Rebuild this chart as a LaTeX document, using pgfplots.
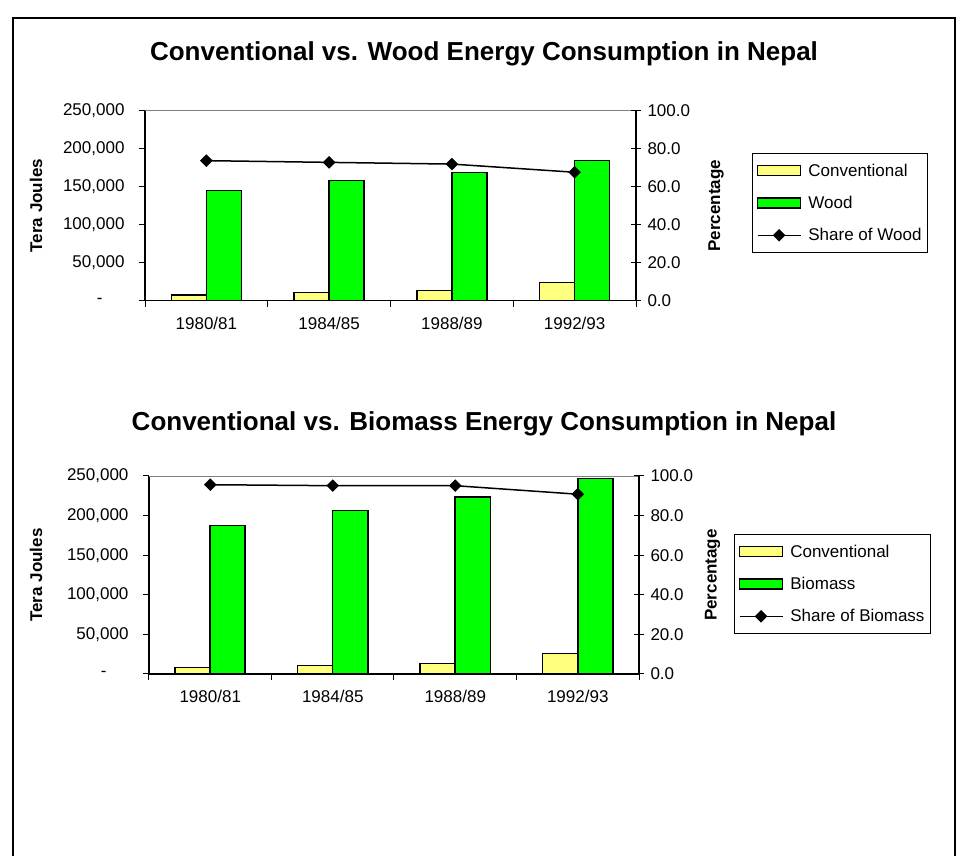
\documentclass[border=0pt]{standalone}
\usepackage{fontspec}
\setmainfont{Liberation Sans}
\usepackage{pgfplots}
\pgfplotsset{compat=1.18}

\definecolor{convyellow}{RGB}{255,255,128}
\definecolor{woodgreen}{RGB}{0,255,0}

\newcommand{\tfont}{\fontsize{17}{20}\selectfont}
\newcommand{\titlefont}{\fontsize{26}{31}\selectfont\bfseries}

\pgfplotsset{
  barlegend/.style={legend image code/.code={\draw[##1, line width=1.3pt] (0pt,-5pt) rectangle (43pt,5pt);}},
  linelegend/.style={legend image code/.code={\draw[mark repeat=2,mark phase=2,##1] plot coordinates {(0pt,0pt) (21.5pt,0pt) (43pt,0pt)};}},
  leftaxis/.style={
    scale only axis, xmin=-0.5, xmax=3.5, ymin=0, ymax=250000,
    scaled y ticks=false,
    axis x line*=bottom, axis y line*=left,
    xtick={-0.5,0.5,1.5,2.5,3.5}, x tick label as interval,
    xticklabels={1980/81,1984/85,1988/89,1992/93},
    ytick={0,50000,100000,150000,200000,250000},
    yticklabels={{-\rule{22pt}{0pt}},{50,000},{100,000},{150,000},{200,000},{250,000}},
    tick align=outside, major tick length=6pt,
    tick style={black, line width=1pt},
    axis line style={black, line width=1.2pt},
    ybar=0pt, bar width=35pt,
    ticklabel style={font=\tfont},
    xticklabel style={yshift=-7pt},
    yticklabel style={xshift=-11pt},
    every axis y label/.style={rotate=90, anchor=center, font=\tfont\bfseries},
  },
  rightaxis/.style={
    scale only axis, xmin=-0.5, xmax=3.5, ymin=0, ymax=100,
    axis y line*=right, axis x line=none,
    ytick={0,20,40,60,80,100},
    yticklabels={0.0,20.0,40.0,60.0,80.0,100.0},
    tick align=center, major tick length=10pt,
    tick style={black, line width=1pt},
    axis line style={black, line width=1.2pt},
    ticklabel style={font=\tfont},
    yticklabel style={xshift=3pt},
    every axis y label/.style={rotate=90, anchor=center, font=\tfont\bfseries},
    legend style={anchor=north west, draw=black, line width=1pt, font=\tfont,
      cells={anchor=west}, row sep=14.5pt, inner xsep=4pt, inner ysep=8pt,
      /tikz/every odd column/.append style={column sep=5pt}},
  },
}

\begin{document}
\begin{tikzpicture}[x=1pt,y=1pt]
\useasboundingbox (0,0) rectangle (959,856);
\draw[line width=2.8pt] (13,-10) -- (13,838) -- (955,838) -- (955,-10);

\node[font=\titlefont] at (484,802) {Conventional vs. Wood Energy Consumption in Nepal};
\node[font=\titlefont] at (484,432) {Conventional vs. Biomass Energy Consumption in Nepal};

% ---------- Chart 1 ----------
\begin{axis}[leftaxis, at={(145pt,555.3pt)}, anchor=south west, width=491pt, height=190pt,
  ylabel={Tera Joules}, every axis y label/.append style={at={(rel axis cs:-0.222,0.5)}}]
\addplot[fill=convyellow, draw=black, line width=1.5pt] coordinates {(0,7500) (1,11000) (2,13200) (3,24200)};
\addplot[fill=woodgreen, draw=black, line width=1.5pt] coordinates {(0,144700) (1,158000) (2,169000) (3,184200)};
\draw[gray, line width=0.8pt] (rel axis cs:0,1) -- (rel axis cs:1,1);
\end{axis}
\begin{axis}[rightaxis, at={(145pt,555.3pt)}, anchor=south west, width=491pt, height=190pt,
  ylabel={Percentage}, every axis y label/.append style={at={(rel axis cs:1.163,0.5)}},
  legend style={at={(rel axis cs:1.237,0.776)}}]
\addlegendimage{barlegend, fill=convyellow, draw=black}
\addlegendentry{Conventional}
\addlegendimage{barlegend, fill=woodgreen, draw=black}
\addlegendentry{Wood}
\addplot[linelegend, black, line width=1.5pt, mark=square*, mark size=3.7pt, mark options={rotate=45, fill=black, solid}] coordinates {(0,73.7) (1,72.8) (2,71.9) (3,67.6)};
\addlegendentry{Share of Wood}
\end{axis}

% ---------- Chart 2 ----------
\begin{axis}[leftaxis, at={(149pt,182pt)}, anchor=south west, width=490pt, height=198pt,
  ylabel={Tera Joules}, every axis y label/.append style={at={(rel axis cs:-0.2306,0.5)}}]
\addplot[fill=convyellow, draw=black, line width=1.5pt] coordinates {(0,8400) (1,11000) (2,13000) (3,25600)};
\addplot[fill=woodgreen, draw=black, line width=1.5pt] coordinates {(0,187300) (1,206300) (2,223200) (3,247000)};
\draw[gray, line width=0.8pt] (rel axis cs:0,1) -- (rel axis cs:1,1);
\end{axis}
\begin{axis}[rightaxis, at={(149pt,182pt)}, anchor=south west, width=490pt, height=198pt,
  ylabel={Percentage}, every axis y label/.append style={at={(rel axis cs:1.15,0.5)}},
  legend style={at={(rel axis cs:1.1945,0.7056)}}]
\addlegendimage{barlegend, fill=convyellow, draw=black}
\addlegendentry{Conventional}
\addlegendimage{barlegend, fill=woodgreen, draw=black}
\addlegendentry{Biomass}
\addplot[linelegend, black, line width=1.5pt, mark=square*, mark size=3.7pt, mark options={rotate=45, fill=black, solid}] coordinates {(0,95.6) (1,95.1) (2,95.1) (3,90.8)};
\addlegendentry{Share of Biomass}
\end{axis}
\end{tikzpicture}
\end{document}
